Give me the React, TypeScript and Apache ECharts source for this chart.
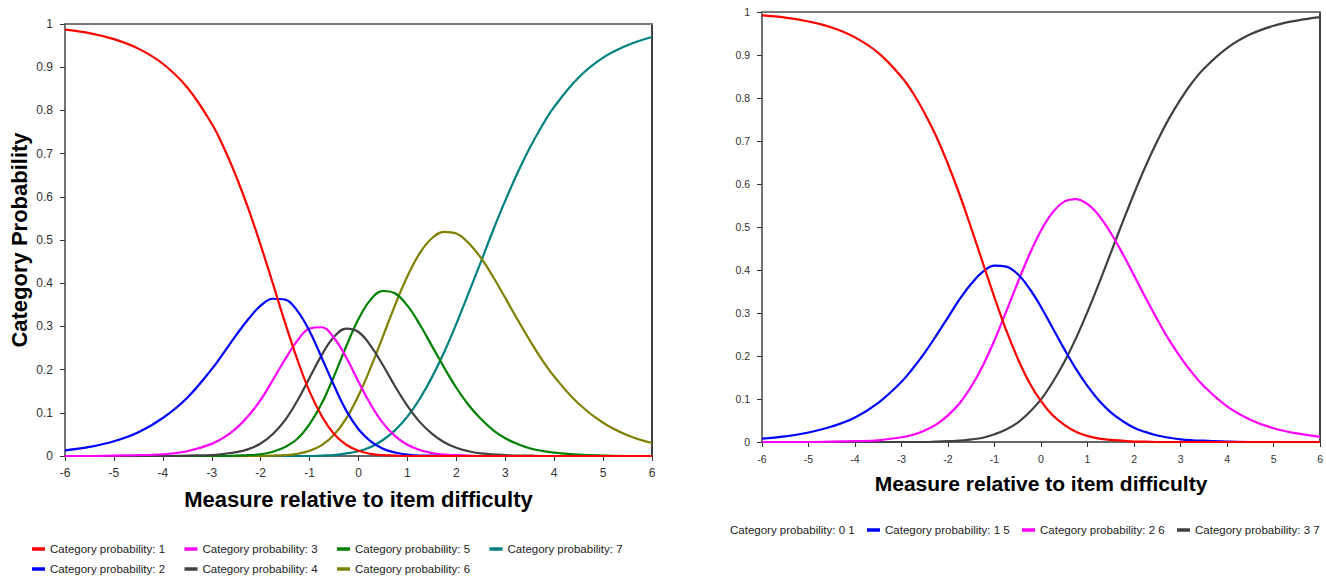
import React, { useEffect, useRef } from "react";
import * as echarts from "echarts";

// Measure values (x) at which the left curves were read
const measureLeft = [-6, -5.5, -5, -4.5, -4, -3.5,
  -3, -2.75, -2.5, -2.25, -2, -1.75, -1.5, -1.25, -1, -0.75, -0.5, -0.25, 0, 0.25, 0.5, 0.75, 1, 1.25, 1.5, 1.75, 2, 2.25, 2.5, 2.75, 3, 3.25, 3.5, 3.75, 4,
  4.5, 5, 5.5, 6];

// Left chart: 7 categories
const leftNames = [
  "Category probability: 1",
  "Category probability: 2",
  "Category probability: 3",
  "Category probability: 4",
  "Category probability: 5",
  "Category probability: 6",
  "Category probability: 7",
];
const leftColors = ["#FF0000", "#0000FF", "#FF00FF", "#404040", "#008000", "#808000", "#008080"];
const leftCat1 = [0.987, 0.979, 0.965, 0.943, 0.908, 0.853,
  0.769, 0.713, 0.647, 0.572, 0.488, 0.399, 0.308, 0.223, 0.149, 0.092, 0.051, 0.026, 0.012, 0.005, 0.002, 0.001, 0, 0, 0, 0, 0, 0, 0, 0, 0, 0, 0, 0, 0,
  0, 0, 0, 0];
const leftCat2 = [0.013, 0.021, 0.034, 0.055, 0.088, 0.135,
  0.201, 0.24, 0.28, 0.317, 0.348, 0.364, 0.362, 0.336, 0.289, 0.227, 0.163, 0.105, 0.062, 0.034, 0.017, 0.008, 0.003, 0.001, 0.001, 0, 0, 0, 0, 0, 0, 0, 0, 0, 0,
  0, 0, 0, 0];
const leftCat3 = [0, 0, 0.001, 0.002, 0.004, 0.011,
  0.028, 0.043, 0.064, 0.093, 0.13, 0.176, 0.224, 0.267, 0.295, 0.298, 0.273, 0.228, 0.172, 0.119, 0.076, 0.046, 0.026, 0.014, 0.007, 0.003, 0.002, 0.001, 0, 0, 0, 0, 0, 0, 0,
  0, 0, 0, 0];
const leftCat4 = [0, 0, 0, 0, 0, 0.001,
  0.002, 0.005, 0.009, 0.016, 0.029, 0.051, 0.083, 0.128, 0.181, 0.234, 0.276, 0.295, 0.287, 0.255, 0.21, 0.161, 0.116, 0.079, 0.052, 0.032, 0.019, 0.011, 0.006, 0.004, 0.002, 0.001, 0.001, 0, 0,
  0, 0, 0, 0];
const leftCat5 = [0, 0, 0, 0, 0, 0,
  0, 0, 0.001, 0.002, 0.004, 0.01, 0.021, 0.04, 0.074, 0.122, 0.185, 0.254, 0.317, 0.362, 0.382, 0.376, 0.348, 0.305, 0.255, 0.205, 0.158, 0.118, 0.086, 0.06, 0.041, 0.028, 0.018, 0.012, 0.008,
  0.003, 0.001, 0, 0];
const leftCat6 = [0, 0, 0, 0, 0, 0,
  0, 0, 0, 0, 0, 0.001, 0.002, 0.005, 0.012, 0.025, 0.049, 0.087, 0.14, 0.205, 0.277, 0.35, 0.416, 0.469, 0.504, 0.519, 0.515, 0.493, 0.459, 0.415, 0.366, 0.316, 0.268, 0.223, 0.184,
  0.121, 0.077, 0.048, 0.03];
const leftCat7 = [0, 0, 0, 0, 0, 0,
  0, 0, 0, 0, 0, 0, 0, 0, 0, 0.001, 0.002, 0.006, 0.011, 0.021, 0.037, 0.06, 0.091, 0.132, 0.182, 0.24, 0.306, 0.377, 0.449, 0.522, 0.591, 0.655, 0.713, 0.764, 0.808,
  0.876, 0.922, 0.951, 0.97];
const leftValues = [leftCat1, leftCat2, leftCat3, leftCat4, leftCat5, leftCat6, leftCat7];

// Measure values (x) at which the right curves were read
const measureRight = [-6, -5.5, -5, -4.5, -4, -3.5,
  -3, -2.75, -2.5, -2.25, -2, -1.75, -1.5, -1.25, -1, -0.75, -0.5, -0.25, 0, 0.25, 0.5, 0.75, 1, 1.25, 1.5, 1.75, 2, 2.25, 2.5, 2.75, 3, 3.25, 3.5,
  4, 4.5, 5, 5.5, 6];

// Right chart: 4 categories
const rightNames = [
  "Category probability: 0 1",
  "Category probability: 1 5",
  "Category probability: 2 6",
  "Category probability: 3 7",
];
const rightColors = ["#FF0000", "#0000FF", "#FF00FF", "#404040"];
const rightCat0 = [0.992, 0.987, 0.978, 0.964, 0.941, 0.905,
  0.849, 0.811, 0.764, 0.71, 0.646, 0.575, 0.497, 0.416, 0.336, 0.26, 0.194, 0.138, 0.095, 0.062, 0.04, 0.024, 0.014, 0.008, 0.005, 0.003, 0.001, 0.001, 0, 0, 0, 0, 0,
  0, 0, 0, 0, 0];
const rightCat1 = [0.008, 0.013, 0.022, 0.036, 0.057, 0.091,
  0.14, 0.172, 0.208, 0.248, 0.29, 0.332, 0.368, 0.396, 0.41, 0.408, 0.39, 0.357, 0.314, 0.265, 0.216, 0.17, 0.13, 0.096, 0.069, 0.049, 0.033, 0.023, 0.015, 0.01, 0.006, 0.004, 0.003,
  0.001, 0, 0, 0, 0];
const rightCat2 = [0, 0, 0, 0.001, 0.002, 0.004,
  0.011, 0.017, 0.027, 0.041, 0.062, 0.09, 0.129, 0.178, 0.237, 0.303, 0.371, 0.436, 0.492, 0.534, 0.559, 0.565, 0.553, 0.526, 0.486, 0.439, 0.387, 0.335, 0.285, 0.238, 0.197, 0.161, 0.13,
  0.083, 0.052, 0.032, 0.02, 0.012];
const rightCat3 = [0, 0, 0, 0, 0, 0,
  0, 0, 0, 0.001, 0.002, 0.003, 0.006, 0.01, 0.018, 0.029, 0.045, 0.069, 0.099, 0.139, 0.186, 0.241, 0.303, 0.37, 0.44, 0.51, 0.578, 0.642, 0.7, 0.752, 0.797, 0.836, 0.868,
  0.916, 0.948, 0.968, 0.98, 0.988];
const rightValues = [rightCat0, rightCat1, rightCat2, rightCat3];

const xTitle = "Measure relative to item difficulty";
const yTitle = "Category Probability";

const FONT = "'Liberation Sans', Arial, sans-serif";

const yFmt = (v: number) => (v === 0 ? "0" : v === 1 ? "1" : v.toFixed(1));

function buildOption() {
  const grids = [
    { left: 65, top: 24, width: 587, height: 432 },
    { left: 762, top: 12, width: 561, height: 430 },
  ];

  const bottomX = (gi: number, labelSize: number, titleSize: number, gap: number) => ({
    type: "value",
    gridIndex: gi,
    min: -6,
    max: 6,
    interval: 1,
    position: "bottom",
    axisLine: { show: true, onZero: false, lineStyle: { color: "#333", width: 1.5 } },
    axisTick: { show: true, length: 5, lineStyle: { color: "#333", width: 1 } },
    axisLabel: { fontSize: labelSize, color: "#333", margin: 11, fontFamily: FONT },
    splitLine: { show: false },
    name: xTitle,
    nameLocation: "middle",
    nameGap: gap,
    nameTextStyle: { fontSize: titleSize, fontWeight: "bold", color: "#000", fontFamily: FONT },
  });
  const topX = (gi: number) => ({
    type: "value",
    gridIndex: gi,
    min: -6,
    max: 6,
    position: "top",
    axisLine: { show: true, onZero: false, lineStyle: { color: "#777", width: 2 } },
    axisTick: { show: false },
    axisLabel: { show: false },
    splitLine: { show: false },
  });
  const leftY = (gi: number, labelSize: number, withName: boolean) => ({
    type: "value",
    gridIndex: gi,
    min: 0,
    max: 1,
    interval: 0.1,
    position: "left",
    axisLine: { show: true, onZero: false, lineStyle: { color: "#444", width: 1.5 } },
    axisTick: { show: true, length: 5, lineStyle: { color: "#333", width: 1 } },
    axisLabel: { fontSize: labelSize, color: "#333", margin: 12, fontFamily: FONT, formatter: yFmt },
    splitLine: { show: false },
    ...(withName
      ? {
          name: yTitle,
          nameLocation: "middle",
          nameGap: 35,
          nameRotate: 90,
          nameTextStyle: { fontSize: 22, fontWeight: "bold", color: "#000", fontFamily: FONT },
        }
      : {}),
  });
  const rightY = (gi: number) => ({
    type: "value",
    gridIndex: gi,
    min: 0,
    max: 1,
    position: "right",
    axisLine: { show: true, onZero: false, lineStyle: { color: "#000", width: 1.5 } },
    axisTick: { show: false },
    axisLabel: { show: false },
    splitLine: { show: false },
  });

  const xAxis = [bottomX(0, 12, 22, 32), topX(0), bottomX(1, 10.5, 21, 31), topX(1)];
  const yAxis = [leftY(0, 12, true), rightY(0), leftY(1, 10.5, false), rightY(1)];

  const series: any[] = [];
  for (let i = leftNames.length - 1; i >= 0; i--) {
    series.push({
      name: leftNames[i],
      type: "line",
      xAxisIndex: 0,
      yAxisIndex: 0,
      data: measureLeft.map((m, k) => [m, leftValues[i][k]]),
      smooth: 0.4,
      symbol: "none",
      showSymbol: false,
      lineStyle: { color: leftColors[i], width: 2.2 },
      itemStyle: { color: leftColors[i] },
      clip: true,
    });
  }
  for (let i = rightNames.length - 1; i >= 0; i--) {
    series.push({
      name: rightNames[i],
      type: "line",
      xAxisIndex: 2,
      yAxisIndex: 2,
      data: measureRight.map((m, k) => [m, rightValues[i][k]]),
      smooth: 0.4,
      symbol: "none",
      showSymbol: false,
      lineStyle: { color: rightColors[i], width: 2.2 },
      itemStyle: { color: rightColors[i] },
      clip: true,
    });
  }

  const legendBase = {
    orient: "horizontal",
    padding: 0,
    itemWidth: 13,
    itemHeight: 3.5,
    selectedMode: false,
    textStyle: { fontSize: 11.5, color: "#222", fontFamily: FONT, lineHeight: 14 },
  };
  const legend: any[] = [];
  leftNames.forEach((n, i) => {
    const col = Math.floor(i / 2);
    const row = i % 2;
    legend.push({
      ...legendBase,
      left: 32 + col * 152.5,
      top: 542 + row * 20,
      data: [{ name: n, icon: "rect" }],
    });
  });
  const rightLefts = [712, 867, 1022, 1177];
  rightNames.forEach((n, i) => {
    legend.push({
      ...legendBase,
      left: rightLefts[i],
      top: 523,
      data: [{ name: n, icon: i === 0 ? "none" : "rect" }],
    });
  });

  return {
    animation: false,
    backgroundColor: "#fff",
    grid: grids,
    xAxis,
    yAxis,
    legend,
    series,
  };
}

export default function App() {
  const ref = useRef<HTMLDivElement>(null);
  useEffect(() => {
    if (!ref.current) return;
    const chart = echarts.init(ref.current, undefined, { renderer: "svg" });
    chart.setOption(buildOption() as any);
    return () => chart.dispose();
  }, []);
  return (
    <div
      ref={ref}
      style={{ position: "absolute", left: 0, top: 0, width: 1326, height: 577, background: "#fff" }}
    />
  );
}
